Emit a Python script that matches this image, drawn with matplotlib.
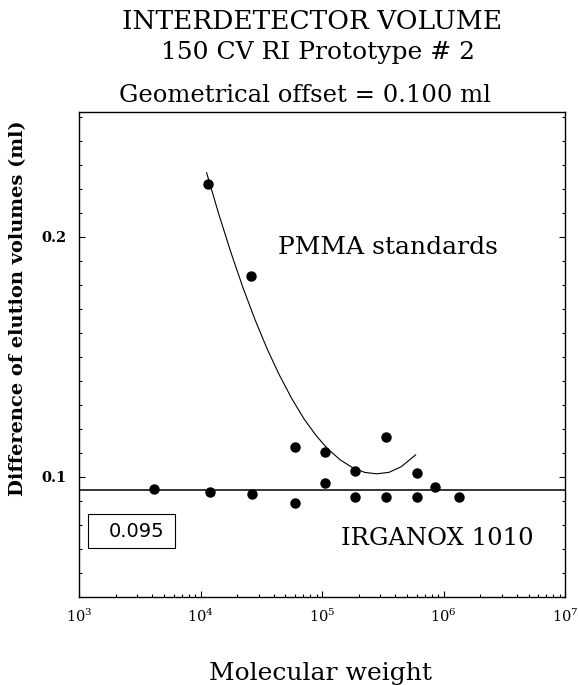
# Interdetector volume: elution volume difference vs molecular weight
import numpy as np
import matplotlib.pyplot as plt
from matplotlib.patches import Rectangle
from matplotlib.ticker import FixedLocator, FixedFormatter, MultipleLocator, NullFormatter

plt.rcParams['font.family'] = ['DejaVu Serif']
plt.rcParams['mathtext.fontset'] = 'dejavuserif'

# PMMA standards (molecular weight, difference of elution volumes in ml)
pmma_mw = [11460, 26060, 59600, 105900, 187000, 334000, 601000]
pmma_dv = [0.222, 0.1835, 0.1126, 0.1105, 0.1026, 0.1168, 0.1015]

# IRGANOX 1010 runs
irganox_mw = [4140, 11970, 26700, 59600, 105900, 187000, 334000, 603000, 851000, 1343000]
irganox_dv = [0.0949, 0.0939, 0.0929, 0.0893, 0.0974, 0.0915, 0.0915, 0.0915, 0.0957, 0.0915]
irganox_level = 0.0945
irganox_label = '0.095'

# fitted curve through the PMMA points (log10 M)
curve_logmw = [4.05, 4.15, 4.25, 4.35, 4.45, 4.55, 4.65, 4.75, 4.85, 4.95,
               5.05, 5.15, 5.25, 5.35, 5.45, 5.55, 5.65, 5.77]
curve_dv = [0.2267, 0.2095, 0.1935, 0.1787, 0.1653, 0.1531, 0.1423, 0.1327, 0.1243, 0.1173,
            0.1115, 0.1071, 0.1039, 0.1019, 0.1013, 0.1019, 0.1042, 0.1092]

y_ticks = [0.1, 0.2]
y_ticklabels = ['0.1', '0.2']
x_ticks = [1e3, 1e4, 1e5, 1e6, 1e7]
x_ticklabels = [r'$10^{3}$', r'$10^{4}$', r'$10^{5}$', r'$10^{6}$', r'$10^{7}$']

fig = plt.figure(figsize=(5.78, 6.85), dpi=100)
ax = fig.add_axes([0.1367, 0.1285, 0.841, 0.708])

ax.plot(10 ** np.array(curve_logmw), curve_dv, color='black', lw=0.8)
ax.axhline(irganox_level, color='black', lw=1.1)
ax.plot(pmma_mw, pmma_dv, 'o', color='black', ms=6.5)
ax.plot(irganox_mw, irganox_dv, 'o', color='black', ms=6.5)

ax.set_xscale('log')
ax.set_xlim(1e3, 1e7)
ax.set_ylim(0.05, 0.252)

ax.xaxis.set_major_locator(FixedLocator(x_ticks))
ax.xaxis.set_major_formatter(FixedFormatter(x_ticklabels))
ax.xaxis.set_minor_formatter(NullFormatter())
ax.yaxis.set_major_locator(FixedLocator(y_ticks))
ax.yaxis.set_major_formatter(FixedFormatter(y_ticklabels))
ax.yaxis.set_minor_locator(MultipleLocator(0.01))

ax.tick_params(which='both', direction='in', right=True, top=False, width=0.8)
ax.tick_params(which='major', length=4)
ax.tick_params(which='minor', length=2.5)
ax.tick_params(axis='x', pad=8, labelsize=10.5)
ax.tick_params(axis='y', pad=9, labelsize=10.5)
for lab in ax.get_yticklabels():
    lab.set_fontweight('bold')
for sp in ax.spines.values():
    sp.set_linewidth(1.0)

ax.text(0.636, 0.720, 'PMMA standards', transform=ax.transAxes,
        ha='center', va='center', fontsize=18)
ax.text(0.737, 0.120, 'IRGANOX 1010', transform=ax.transAxes,
        ha='center', va='center', fontsize=17.5)
ax.add_patch(Rectangle((0.0185, 0.101), 0.179, 0.070, transform=ax.transAxes,
                       fill=False, ec='black', lw=0.8))
ax.text(0.119, 0.134, irganox_label, transform=ax.transAxes, ha='center', va='center',
        fontsize=14, family=['DejaVu Sans'])

fig.text(0.540, 0.969, 'INTERDETECTOR VOLUME', ha='center', va='center', fontsize=19)
fig.text(0.550, 0.924, '150 CV RI Prototype # 2', ha='center', va='center', fontsize=18)
fig.text(0.528, 0.861, 'Geometrical offset = 0.100 ml', ha='center', va='center', fontsize=17.5)
fig.text(0.554, 0.0175, 'Molecular weight', ha='center', va='center', fontsize=18)
fig.text(0.031, 0.55, 'Difference of elution volumes (ml)', rotation=90,
         ha='center', va='center', fontsize=14, fontweight='bold')

fig.savefig('out.png', dpi=100)
